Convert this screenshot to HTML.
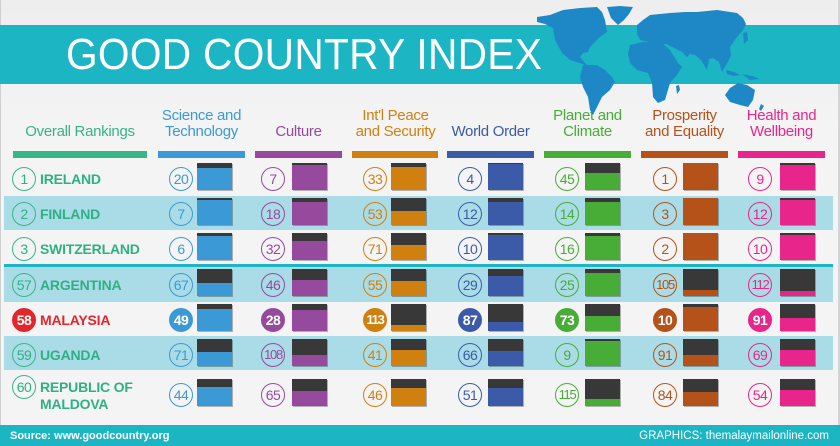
<!DOCTYPE html>
<html><head><meta charset="utf-8">
<style>
*{margin:0;padding:0;box-sizing:border-box}
html,body{width:840px;height:446px;overflow:hidden;background:#f3f3f3}
body{position:relative;font-family:"Liberation Sans",Arial,sans-serif}
.frame{position:absolute;left:0;top:0;width:840px;height:446px;border-left:1px solid #cfcfcf;border-right:2px solid #d4d4d4;background:linear-gradient(#eeeeee,#f4f4f4 30%,#f4f4f4)}
.banner{position:absolute;left:0;top:25px;width:840px;height:59px;background:#1bb5c4}
.title{position:absolute;left:66px;top:33px;font-size:44px;line-height:44px;color:#fff;white-space:nowrap;transform:scaleX(0.925);transform-origin:0 0;letter-spacing:0.3px}
.hd{position:absolute;top:108px;height:32px;font-size:15px;line-height:16px;text-align:center;display:flex;flex-direction:column;justify-content:flex-end;white-space:nowrap;letter-spacing:-0.3px}
.bar{position:absolute;top:151px;height:7px}
.stripe{position:absolute;left:4px;width:829px;background:#a9dce6}
.sep{position:absolute;left:4px;width:829px;top:264px;height:3px;background:#1bb5c4}
.row{position:absolute;left:0;width:840px;height:27px}
.c{position:absolute;top:4px;width:24px;height:24px;border:1px solid;border-radius:50%;font-size:14px;line-height:22px;text-align:center;letter-spacing:-0.5px;background:transparent}
.c.t{font-size:13px;letter-spacing:-1.3px}
.b{position:absolute;top:0;width:35px;height:27px;box-shadow:1px 1px 0 rgba(0,0,0,0.28)}
.b i{display:block;background:#383838;width:100%}
.nm{position:absolute;left:40px;top:8px;font-size:14px;font-weight:bold;line-height:17px;color:#2fb084;letter-spacing:-0.2px;white-space:nowrap}
.oc{left:12px;color:#2fb084;border-color:#37b68a}
.k1{left:169px;color:#3b99d5;border-color:#3b99d5}.q1{left:197px;background:#3b99d5}
.k2{left:261px;color:#954a9e;border-color:#954a9e}.q2{left:292px;background:#954a9e}
.k3{left:363px;color:#d0800f;border-color:#d0800f}.q3{left:391px;background:#d0800f}
.k4{left:458px;color:#3b5ba8;border-color:#3b5ba8}.q4{left:488px;background:#3b5ba8}
.k5{left:555px;color:#48ad36;border-color:#48ad36}.q5{left:585px;background:#48ad36}
.k6{left:653px;color:#b55219;border-color:#b55219}.q6{left:683px;background:#b55219}
.k7{left:748px;color:#e8258b;border-color:#e8258b}.q7{left:780px;background:#e8258b}
.my .c{color:#fff;font-weight:bold}
.my .k1{background:#3b99d5}.my .k2{background:#954a9e}.my .k3{background:#d0800f}.my .k4{background:#3b5ba8}.my .k5{background:#48ad36}.my .k6{background:#b55219}.my .k7{background:#e8258b}
.my .oc{background:#e3262b;border-color:#e3262b;color:#fff;font-weight:bold}
.my .nm{color:#e3262b}
.footer{position:absolute;left:0;top:425px;width:840px;height:21px;background:#1bb5c4}
.src{position:absolute;left:10px;top:430px;font-size:11px;font-weight:bold;color:#fff;line-height:13px}
.gr{position:absolute;right:11px;top:430px;font-size:11.5px;color:#fff;line-height:13px}
</style></head><body>
<div class="frame"></div>
<div class="banner"></div>
<div class="title">GOOD COUNTRY INDEX</div>

<div class="hd" style="left:13px;width:134px;color:#36b387"><span>Overall Rankings</span></div>
<div class="hd" style="left:158px;width:87px;color:#3b99d5"><span>Science and</span><span>Technology</span></div>
<div class="hd" style="left:255px;width:87px;color:#954a9e"><span>Culture</span></div>
<div class="hd" style="left:352px;width:87px;color:#d0800f"><span>Int'l Peace</span><span>and Security</span></div>
<div class="hd" style="left:447px;width:87px;color:#3b5ba8"><span>World Order</span></div>
<div class="hd" style="left:544px;width:87px;color:#48ad36"><span>Planet and</span><span>Climate</span></div>
<div class="hd" style="left:641px;width:87px;color:#b55219"><span>Prosperity</span><span>and Equality</span></div>
<div class="hd" style="left:738px;width:87px;color:#e8258b"><span>Health and</span><span>Wellbeing</span></div>

<svg style="position:absolute;left:0;top:0" width="840" height="446" viewBox="0 0 840 446">
<g fill="#1e88c7">
<polygon points="537,17 550,15 563,10 580,8 597,7 602,12 605,20 607,32 600,37 595,42 590,47 588,52 583,53 580,57 585,63 590,67 580,63 570,60 562,53 555,40 553,28 545,24 537,22"/>
<polygon points="607,7 620,6 633,7 629,14 624,20 618,25 611,18"/>
<polygon points="583,65 597,65 605,70 612,77 615,82 610,90 602,97 597,107 593,115 590,110 588,97 583,87 580,77"/>
<polygon points="637,25 643,20 650,15 660,14 670,13 685,12 697,12 717,10 737,13 743,18 746,24 743,30 737,37 730,47 731,55 728,62 722,72 719,62 713,58 709,59 707,70 701,60 695,55 690,54 687,57 682,52 674,48 666,44 657,44 648,42 640,40 637,34"/>
<polygon points="630,45 643,42 662,43 670,50 678,63 682,67 677,75 670,83 665,100 658,103 653,97 652,83 648,73 637,70 630,63 628,54"/>
<polygon points="725,95 730,88 738,83 747,85 755,90 753,100 748,107 740,105 730,102"/>
<polygon points="676,86 679,85 680,90 677,94"/>
<polygon points="743,33 747,32 748,40 744,44"/>
<polygon points="641,22 645,22 646,29 642,30"/>
<polygon points="726,70 734,72 740,75 733,76 727,74"/>
<polygon points="742,74 752,76 760,79 750,80"/>
<polygon points="761,104 764,106 761,111 759,109"/>
</g>
</svg>

<div class="bar" style="left:13px;width:134px;background:#37b68a"></div>
<div class="bar" style="left:158px;width:87px;background:#3b99d5"></div>
<div class="bar" style="left:255px;width:87px;background:#954a9e"></div>
<div class="bar" style="left:352px;width:86px;background:#d0800f"></div>
<div class="bar" style="left:447px;width:87px;background:#3b5ba8"></div>
<div class="bar" style="left:544px;width:87px;background:#48ad36"></div>
<div class="bar" style="left:641px;width:87px;background:#b55219"></div>
<div class="bar" style="left:738px;width:87px;background:#e8258b"></div>

<div class="stripe" style="top:196px;height:34px"></div>
<div class="stripe" style="top:267px;height:35px"></div>
<div class="stripe" style="top:336px;height:34px"></div>
<div class="sep"></div>

<div class="row" style="top:163px">
<div class="c oc">1</div><div class="nm">IRELAND</div>
<div class="c k1">20</div><div class="b q1"><i style="height:5px"></i></div>
<div class="c k2">7</div><div class="b q2"><i style="height:2px"></i></div>
<div class="c k3">33</div><div class="b q3"><i style="height:4px"></i></div>
<div class="c k4">4</div><div class="b q4"><i style="height:1px"></i></div>
<div class="c k5">45</div><div class="b q5"><i style="height:10px"></i></div>
<div class="c k6">1</div><div class="b q6"><i style="height:0px"></i></div>
<div class="c k7">9</div><div class="b q7"><i style="height:2px"></i></div>
</div>

<div class="row" style="top:198px">
<div class="c oc">2</div><div class="nm">FINLAND</div>
<div class="c k1">7</div><div class="b q1"><i style="height:2px"></i></div>
<div class="c k2">18</div><div class="b q2"><i style="height:4px"></i></div>
<div class="c k3">53</div><div class="b q3"><i style="height:13px"></i></div>
<div class="c k4">12</div><div class="b q4"><i style="height:4px"></i></div>
<div class="c k5">14</div><div class="b q5"><i style="height:4px"></i></div>
<div class="c k6">3</div><div class="b q6"><i style="height:0px"></i></div>
<div class="c k7">12</div><div class="b q7"><i style="height:2px"></i></div>
</div>

<div class="row" style="top:233px">
<div class="c oc">3</div><div class="nm">SWITZERLAND</div>
<div class="c k1">6</div><div class="b q1"><i style="height:3px"></i></div>
<div class="c k2">32</div><div class="b q2"><i style="height:8px"></i></div>
<div class="c k3">71</div><div class="b q3"><i style="height:12px"></i></div>
<div class="c k4">10</div><div class="b q4"><i style="height:2px"></i></div>
<div class="c k5">16</div><div class="b q5"><i style="height:3px"></i></div>
<div class="c k6">2</div><div class="b q6"><i style="height:0px"></i></div>
<div class="c k7">10</div><div class="b q7"><i style="height:2px"></i></div>
</div>

<div class="row" style="top:269px">
<div class="c oc">57</div><div class="nm">ARGENTINA</div>
<div class="c k1">67</div><div class="b q1"><i style="height:14px"></i></div>
<div class="c k2">46</div><div class="b q2"><i style="height:11px"></i></div>
<div class="c k3">55</div><div class="b q3"><i style="height:12px"></i></div>
<div class="c k4">29</div><div class="b q4"><i style="height:7px"></i></div>
<div class="c k5">25</div><div class="b q5"><i style="height:4px"></i></div>
<div class="c k6 t">105</div><div class="b q6"><i style="height:21px"></i></div>
<div class="c k7 t">112</div><div class="b q7"><i style="height:22px"></i></div>
</div>

<div class="row my" style="top:304px">
<div class="c oc">58</div><div class="nm">MALAYSIA</div>
<div class="c k1">49</div><div class="b q1"><i style="height:5px"></i></div>
<div class="c k2">28</div><div class="b q2"><i style="height:6px"></i></div>
<div class="c k3 t">113</div><div class="b q3"><i style="height:21px"></i></div>
<div class="c k4">87</div><div class="b q4"><i style="height:18px"></i></div>
<div class="c k5">73</div><div class="b q5"><i style="height:12px"></i></div>
<div class="c k6">10</div><div class="b q6"><i style="height:3px"></i></div>
<div class="c k7">91</div><div class="b q7"><i style="height:14px"></i></div>
</div>

<div class="row" style="top:339px">
<div class="c oc">59</div><div class="nm">UGANDA</div>
<div class="c k1">71</div><div class="b q1"><i style="height:13px"></i></div>
<div class="c k2 t">108</div><div class="b q2"><i style="height:16px"></i></div>
<div class="c k3">41</div><div class="b q3"><i style="height:11px"></i></div>
<div class="c k4">66</div><div class="b q4"><i style="height:12px"></i></div>
<div class="c k5">9</div><div class="b q5"><i style="height:2px"></i></div>
<div class="c k6">91</div><div class="b q6"><i style="height:16px"></i></div>
<div class="c k7">69</div><div class="b q7"><i style="height:11px"></i></div>
</div>

<div class="row" style="top:379px">
<div class="c oc" style="top:-4px">60</div><div class="nm" style="top:0">REPUBLIC OF<br>MALDOVA</div>
<div class="c k1">44</div><div class="b q1"><i style="height:8px"></i></div>
<div class="c k2">65</div><div class="b q2"><i style="height:12px"></i></div>
<div class="c k3">46</div><div class="b q3"><i style="height:9px"></i></div>
<div class="c k4">51</div><div class="b q4"><i style="height:9px"></i></div>
<div class="c k5 t">115</div><div class="b q5"><i style="height:20px"></i></div>
<div class="c k6">84</div><div class="b q6"><i style="height:13px"></i></div>
<div class="c k7">54</div><div class="b q7"><i style="height:11px"></i></div>
</div>

<div class="footer"></div>
<div class="src">Source: www.goodcountry.org</div>
<div class="gr">GRAPHICS: themalaymailonline.com</div>
</body></html>
